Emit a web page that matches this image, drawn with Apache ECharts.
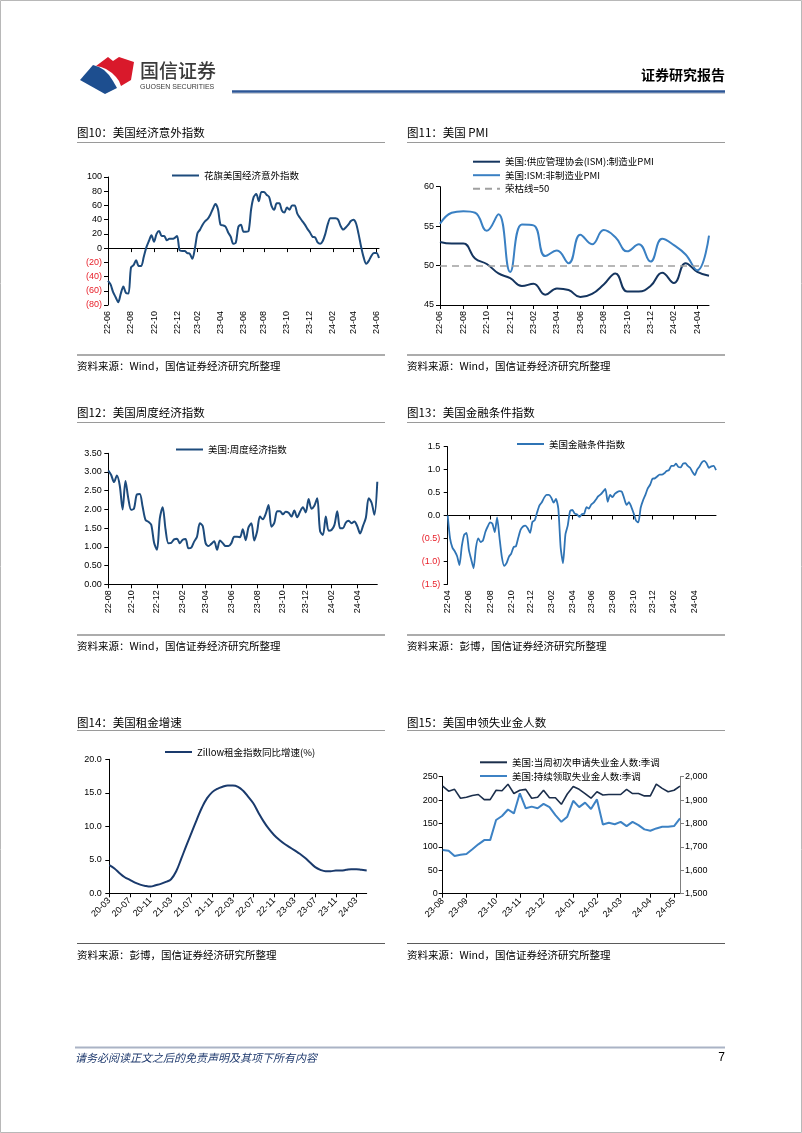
<!DOCTYPE html>
<html>
<head>
<meta charset="utf-8">
<title>国信证券 证券研究报告</title>
<script src="https://cdn.jsdelivr.net/npm/echarts@6.0.0/dist/echarts.min.js"></script>
<style>
html,body{margin:0;padding:0;background:#fff;}
#page{width:802px;height:1133px;}
</style>
</head>
<body>
<div id="page"></div>
<script>
// ---------------- data ----------------
// 图10 花旗美国经济意外指数 (weekly)
const surpriseStart = '2022-06-01';
const surpriseValues = [
  -46, -51, -62, -69, -76, -64, -54, -63, -64, -27,
  -24, -17, -25, -25, -12, 1, 10, 18, 9, 20,
  24, 17, 17, 11, 13, 13, 14, 17, -3, -4,
  -4, -7, -8, -15, 0, 21, 26, 33, 38, 41,
  47, 55, 62, 55, 33, 32, 30, 22, 16, 6,
  8, 30, 33, 23, 23, 24, 55, 72, 76, 66,
  79, 79, 75, 72, 59, 54, 63, 63, 53, 50,
  57, 54, 60, 60, 49, 43, 38, 33, 27, 22,
  16, 15, 8, 6, 10, 20, 34, 42, 42, 42,
  40, 31, 26, 29, 33, 38, 40, 35, 20, 2,
  -13, -22, -18, -11, -7, -7, -14
];

// 图11 美国 PMI (monthly)
const pmiStartMonth = '2022-06';
const pmiManufacturing = [53.0, 52.8, 52.8, 50.9, 50.2, 49.0, 48.4, 47.4, 47.7, 46.3, 47.1, 46.9,
  46.0, 46.4, 47.6, 49.0, 46.7, 46.7, 47.4, 49.1, 47.8, 50.3, 49.2, 48.7];
const pmiNonManufacturing = [55.3, 56.7, 56.9, 56.7, 54.4, 56.5, 49.2, 55.2, 55.1, 51.2, 51.9, 50.3,
  53.9, 52.7, 54.5, 53.6, 51.8, 52.7, 50.5, 53.4, 52.6, 51.4, 49.4, 53.8];
const pmiThreshold = 50;

// 图12 美国周度经济指数 (weekly)
const weiStart = '2022-08-06';
const weiValues = [
  3.04, 2.92, 2.73, 2.91, 2.64, 2.00, 2.76, 2.29, 1.99, 2.03,
  2.40, 2.41, 2.07, 1.72, 1.67, 1.59, 1.11, 0.92, 1.76, 2.06,
  1.47, 1.10, 1.11, 1.20, 1.22, 1.10, 1.19, 1.21, 0.96, 0.98,
  1.14, 1.27, 1.63, 1.56, 1.10, 1.02, 1.08, 1.15, 0.92, 1.17,
  1.10, 1.02, 1.02, 1.10, 1.27, 1.27, 1.26, 1.47, 1.18, 1.52,
  1.63, 1.17, 1.41, 1.81, 1.74, 1.88, 2.12, 1.54, 1.64, 1.95,
  1.95, 1.87, 1.94, 1.91, 1.81, 1.97, 1.79, 1.94, 2.06, 1.92,
  2.28, 2.02, 2.10, 2.30, 1.42, 1.32, 1.81, 1.43, 1.45, 1.58,
  1.95, 1.50, 1.50, 1.65, 1.70, 1.63, 1.68, 1.55, 1.36, 1.56,
  1.78, 2.30, 2.18, 1.86, 2.74
];

// 图13 美国金融条件指数 (weekly)
const fciStart = '2022-04-01';
const fciLastLabel = '2024-04';
const fciValues = [
  0.00, -0.50, -0.70, -0.78, -0.89, -1.08, -0.67, -0.42, -0.38, -0.75,
  -0.96, -1.15, -0.70, -0.50, -0.58, -0.54, -0.36, -0.24, -0.15, -0.18,
  -0.36, -0.04, -0.48, -0.90, -1.10, -1.04, -0.90, -0.83, -0.69, -0.67,
  -0.48, -0.31, -0.24, -0.22, -0.28, -0.38, -0.14, -0.10, 0.07, 0.22,
  0.29, 0.39, 0.45, 0.45, 0.39, 0.28, 0.36, 0.15, -0.70, -1.04,
  -0.42, -0.22, 0.10, 0.12, 0.04, 0.02, -0.03, 0.03, 0.04, 0.18,
  0.15, 0.24, 0.28, 0.35, 0.42, 0.46, 0.52, 0.58, 0.30, 0.45,
  0.40, 0.47, 0.51, 0.53, 0.52, 0.37, 0.23, 0.29, 0.19, 0.05,
  -0.11, -0.15, 0.17, 0.33, 0.45, 0.59, 0.67, 0.80, 0.81, 0.85,
  0.89, 0.89, 0.92, 0.97, 0.99, 1.08, 1.08, 1.13, 1.06, 1.05,
  1.13, 1.14, 1.08, 1.04, 0.95, 0.88, 1.00, 1.07, 1.16, 1.19,
  1.14, 1.04, 1.07, 1.08, 0.99
];

// 图14 Zillow租金指数同比增速(%) (monthly)
const rentStartMonth = '2020-03';
const rentYoY = [
  4.2, 3.7, 3.0, 2.4, 2.0, 1.6, 1.3, 1.1, 1.0, 1.2,
  1.4, 1.7, 2.1, 3.3, 5.2, 7.2, 9.1, 11.0, 12.8, 14.2, 15.1, 15.6,
  15.9, 16.1, 16.1, 15.9, 15.3, 14.4, 13.4, 12.0, 10.7, 9.6, 8.7, 8.0,
  7.4, 6.9, 6.4, 5.9, 5.3, 4.6, 3.9, 3.5, 3.3, 3.3, 3.4, 3.4,
  3.5, 3.6, 3.6, 3.5, 3.4
];

// 图15 美国申领失业金人数 (weekly, 千人)
const claimsStart = '2023-08-05';
const initialClaims = [230, 219, 223, 204, 206, 210, 212, 201, 201, 221,
  220, 234, 214, 221, 223, 204, 206, 221, 205, 205,
  191, 213, 229, 223, 214, 204, 218, 211, 212, 212,
  212, 223, 214, 214, 209, 209, 234, 225, 218, 221, 230];
const continuingClaims = [1687, 1684, 1661, 1666, 1670, 1690, 1711, 1729, 1729, 1815,
  1832, 1860, 1843, 1929, 1865, 1872, 1865, 1884, 1870, 1836,
  1807, 1829, 1897, 1870, 1889, 1862, 1903, 1796, 1803, 1797,
  1807, 1789, 1807, 1793, 1775, 1769, 1779, 1786, 1786, 1789, 1822];

// ---------------- category helpers ----------------
function weeklyDates(start, n) {
  const t0 = Date.parse(start + 'T00:00:00Z');
  const out = [];
  for (let i = 0; i < n; i++) out.push(new Date(t0 + i * 7 * 86400000).toISOString().slice(0, 10));
  return out;
}
function monthList(start, n) {
  let y = +start.slice(0, 4), m = +start.slice(5, 7);
  const out = [];
  for (let i = 0; i < n; i++) {
    out.push(y + '-' + String(m).padStart(2, '0'));
    m++; if (m > 12) { m = 1; y++; }
  }
  return out;
}
function monthStarts(dates, evenOnly, lastMonth) {
  const s = new Set(); let prev = '';
  dates.forEach((d, i) => {
    const ym = d.slice(0, 7);
    if (ym !== prev && (!evenOnly || (+d.slice(5, 7)) % 2 === 0) && (!lastMonth || ym <= lastMonth)) s.add(i);
    prev = ym;
  });
  return s;
}

const surpriseDates = weeklyDates(surpriseStart, surpriseValues.length);
const pmiMonths = monthList(pmiStartMonth, pmiManufacturing.length);
const weiDates = weeklyDates(weiStart, weiValues.length);
const fciDates = weeklyDates(fciStart, fciValues.length);
const rentMonths = monthList(rentStartMonth, rentYoY.length);
const claimsDates = weeklyDates(claimsStart, initialClaims.length);

const surpriseTicks = monthStarts(surpriseDates, true);
const weiTicks = monthStarts(weiDates, true);
const fciTicks = monthStarts(fciDates, true, fciLastLabel);
const claimsTicks = monthStarts(claimsDates, false);

// ---------------- styles ----------------
const CJK = '"Noto Sans CJK SC", "Noto Sans", sans-serif';
const NUM = '"Liberation Sans", Arial, sans-serif';
const RED = '#e8202a';
const AXLINE = {show: true, onZero: false, lineStyle: {color: '#000', width: 1}};
const TICK = {show: true, length: 4, lineStyle: {color: '#000', width: 1}};
const ymd = (d) => d.slice(2, 7);
const paren = (dec) => (v) => { v = Number(v); return v < 0 ? '(' + (-v).toFixed(dec) + ')' : v.toFixed(dec); };
const negRed = (v) => Number(v) < 0 ? RED : '#000';

function valAxis(grid, min, max, interval, formatter, margin, color, extra) {
  return Object.assign({
    type: 'value', gridIndex: grid, min: min, max: max, interval: interval,
    axisLine: AXLINE, axisTick: TICK, splitLine: {show: false},
    axisLabel: {fontSize: 9, fontFamily: NUM, color: color || '#000', margin: margin, formatter: formatter}
  }, extra || {});
}
function catAxis(grid, data, interval, rotate, margin, fmt) {
  return {
    type: 'category', gridIndex: grid, data: data, boundaryGap: false, position: 'bottom',
    axisLine: AXLINE,
    axisTick: {show: true, length: 4, interval: interval, lineStyle: {color: '#000', width: 1}},
    axisLabel: {fontSize: 9, fontFamily: NUM, color: '#000', rotate: rotate, interval: interval, margin: margin,
      formatter: fmt || ymd},
    splitLine: {show: false}
  };
}
function labelOnlyAxis(grid, data, interval, margin) {
  return {
    type: 'category', gridIndex: grid, data: data, boundaryGap: false, position: 'bottom',
    axisLine: {show: false, onZero: false}, axisTick: {show: false},
    axisLabel: {fontSize: 9, fontFamily: NUM, color: '#000', rotate: 90, interval: interval, margin: margin, formatter: ymd},
    splitLine: {show: false}
  };
}
function zeroLineAxis(grid, data, interval) {
  return {
    type: 'category', gridIndex: grid, data: data, boundaryGap: false, position: 'top',
    axisLine: {show: true, onZero: true, lineStyle: {color: '#000', width: 1}},
    axisTick: {show: true, inside: true, length: 4, interval: interval, lineStyle: {color: '#000', width: 1}},
    axisLabel: {show: false}, splitLine: {show: false}
  };
}
function legend(data, left, top, gap) {
  return {
    data: data, left: left, top: top, padding: 0, orient: 'vertical', itemGap: gap || 2.5,
    itemWidth: 27, itemHeight: 8, selectedMode: false,
    itemStyle: {opacity: 0},
    textStyle: {fontSize: 9.5, fontFamily: CJK, color: '#000', lineHeight: 11}
  };
}
function lineSeries(name, xi, yi, data, color, width, smooth) {
  return {
    name: name, type: 'line', xAxisIndex: xi, yAxisIndex: yi, data: data,
    symbol: 'none', showSymbol: false, smooth: smooth, animation: false,
    lineStyle: {color: color, width: width}, itemStyle: {color: color}
  };
}

// ---------------- page decorations ----------------
function txt(x, y, text, font, opts) {
  return {type: 'text', x: x, y: y, silent: true,
    style: Object.assign({text: text, font: font, fill: '#000', align: 'left', verticalAlign: 'middle'}, opts || {})};
}
function hline(x1, x2, y, stroke, w) {
  return {type: 'line', silent: true, shape: {x1: x1, y1: y, x2: x2, y2: y}, style: {stroke: stroke, lineWidth: w}};
}
const TITLE_FONT = '11.5px ' + CJK;
const SRC_FONT = '10.5px ' + CJK;
const SRC_WIND = '资料来源：Wind，国信证券经济研究所整理';
const SRC_BBG = '资料来源：彭博，国信证券经济研究所整理';

const graphics = [
  {type: 'rect', silent: true, shape: {x: 0.5, y: 0.5, width: 801, height: 1132}, style: {fill: 'none', stroke: '#b8b8b8', lineWidth: 1}},
  // logo
  {type: 'polygon', silent: true, shape: {points: [[96, 66], [108, 57], [113, 61], [119, 57], [134, 62], [131, 80], [121, 86], [119, 81], [116, 77], [112, 73], [106, 69], [101, 67]]}, style: {fill: '#d9192b'}},
  {type: 'polygon', silent: true, shape: {points: [[80, 80], [93, 65], [99, 67], [104, 70], [109, 75], [113, 81], [117, 88], [105, 94]]}, style: {fill: '#1d4e8f'}},
  txt(140, 71, '国信证券', '500 19px ' + CJK, {fill: '#3a3a3a'}),
  txt(140, 87, 'GUOSEN SECURITIES', '7px ' + NUM, {fill: '#3a3a3a'}),
  txt(725, 75, '证券研究报告', 'bold 14px ' + CJK, {align: 'right'}),
  hline(232, 725, 91.5, '#2d5696', 2.5),
  hline(232, 725, 93.5, '#c8ccd4', 1),
  // titles
  txt(77, 132.5, '图10：美国经济意外指数', TITLE_FONT),
  txt(407, 132.5, '图11：美国 PMI', TITLE_FONT),
  txt(77, 412.5, '图12：美国周度经济指数', TITLE_FONT),
  txt(407, 412.5, '图13：美国金融条件指数', TITLE_FONT),
  txt(77, 722.5, '图14：美国租金增速', TITLE_FONT),
  txt(407, 722.5, '图15：美国申领失业金人数', TITLE_FONT),
  hline(77, 385, 142.5, '#9a9a9a', 1), hline(407, 725, 142.5, '#9a9a9a', 1),
  hline(77, 385, 422.5, '#9a9a9a', 1), hline(407, 725, 422.5, '#9a9a9a', 1),
  hline(77, 385, 730.5, '#9a9a9a', 1), hline(407, 725, 730.5, '#9a9a9a', 1),
  // sources
  hline(77, 385, 355, '#5a5a5a', 1.2), hline(407, 725, 355, '#5a5a5a', 1.2),
  hline(77, 385, 635, '#5a5a5a', 1.2), hline(407, 725, 635, '#5a5a5a', 1.2),
  hline(77, 385, 943.5, '#5a5a5a', 1.2), hline(407, 725, 943.5, '#5a5a5a', 1.2),
  txt(77, 366.5, SRC_WIND, SRC_FONT), txt(407, 366.5, SRC_WIND, SRC_FONT),
  txt(77, 646.5, SRC_WIND, SRC_FONT), txt(407, 646.5, SRC_BBG, SRC_FONT),
  txt(77, 955, SRC_BBG, SRC_FONT), txt(407, 955, SRC_WIND, SRC_FONT),
  // footer
  hline(75, 725, 1047.5, '#aab3c5', 2),
  txt(75, 1057.5, '请务必阅读正文之后的免责声明及其项下所有内容', 'italic 11px ' + CJK, {fill: '#1f3a6e'}),
  txt(725, 1058, '7', '12px ' + NUM, {align: 'right'})
];

// ---------------- chart ----------------
const chart = echarts.init(document.getElementById('page'), null, {renderer: 'canvas', width: 802, height: 1133});

const option = {
  animation: false,
  backgroundColor: '#fff',
  grid: [
    {left: 108, top: 177, width: 271, height: 128},
    {left: 440, top: 186.7, width: 269, height: 118.3},
    {left: 108.3, top: 453.3, width: 269, height: 131},
    {left: 447.7, top: 446.7, width: 268.3, height: 137.6},
    {left: 109.3, top: 759.3, width: 257.4, height: 134},
    {left: 442.7, top: 776.7, width: 237.3, height: 117}
  ],
  xAxis: [
    labelOnlyAxis(0, surpriseDates, (i) => surpriseTicks.has(i), 6),
    zeroLineAxis(0, surpriseDates, (i) => surpriseTicks.has(i)),
    catAxis(1, pmiMonths, 1, 90, 6, (d) => d.slice(2)),
    catAxis(2, weiDates, (i) => weiTicks.has(i), 90, 6),
    labelOnlyAxis(3, fciDates, (i) => fciTicks.has(i), 6),
    zeroLineAxis(3, fciDates, (i) => fciTicks.has(i)),
    catAxis(4, rentMonths, 3, 45, 6, (d) => d.slice(2)),
    catAxis(5, claimsDates, (i) => claimsTicks.has(i), 45, 6)
  ],
  yAxis: [
    valAxis(0, -80, 100, 20, paren(0), 6, negRed),
    valAxis(1, 45, 60, 5, (v) => String(v), 6),
    valAxis(2, 0, 3.5, 0.5, (v) => Number(v).toFixed(2), 6.5),
    valAxis(3, -1.5, 1.5, 0.5, paren(1), 7.5, negRed),
    valAxis(4, 0, 20, 5, (v) => Number(v).toFixed(1), 7.5),
    valAxis(5, 0, 250, 50, (v) => String(v), 5),
    valAxis(5, 1500, 2000, 100, (v) => Number(v).toLocaleString('en-US'), 5, '#000',
      {position: 'right', axisLine: {show: true, onZero: false, lineStyle: {color: '#7f7f7f', width: 1}},
       axisTick: {show: true, length: 4, lineStyle: {color: '#7f7f7f', width: 1}}})
  ],
  legend: [
    legend(['花旗美国经济意外指数'], 171, 170),
    legend(['美国:供应管理协会(ISM):制造业PMI', '美国:ISM:非制造业PMI', '荣枯线=50'], 472, 156.2, 2.5),
    legend(['美国:周度经济指数'], 175, 444),
    legend(['美国金融条件指数'], 516, 438.5),
    legend(['Zillow租金指数同比增速(%)'], 164, 746.5),
    legend(['美国:当周初次申请失业金人数:季调', '美国:持续领取失业金人数:季调'], 479, 756.8, 2.7)
  ],
  graphic: graphics,
  series: [
    lineSeries('花旗美国经济意外指数', 0, 0, surpriseValues, '#1d4b7c', 2, 0.3),
    lineSeries('美国:供应管理协会(ISM):制造业PMI', 2, 1, pmiManufacturing, '#15355f', 2, 0.45),
    lineSeries('美国:ISM:非制造业PMI', 2, 1, pmiNonManufacturing, '#3a80c3', 2, 0.45),
    Object.assign(lineSeries('荣枯线=50', 2, 1, [], '#a0a0a0', 1.6, false), {
      lineStyle: {color: '#a0a0a0', width: 1.6, type: [7, 5]},
      markLine: {silent: true, symbol: 'none', animation: false, label: {show: false},
        lineStyle: {color: '#a0a0a0', width: 1.6, type: [7, 5]},
        data: [{yAxis: pmiThreshold}]}
    }),
    lineSeries('美国:周度经济指数', 3, 2, weiValues, '#1d4b7c', 2, 0.3),
    lineSeries('美国金融条件指数', 4, 3, fciValues, '#2f74b5', 1.8, 0.2),
    lineSeries('Zillow租金指数同比增速(%)', 6, 4, rentYoY, '#1a3a6c', 2, 0.4),
    lineSeries('美国:持续领取失业金人数:季调', 7, 6, continuingClaims, '#3d82c4', 2, false),
    lineSeries('美国:当周初次申请失业金人数:季调', 7, 5, initialClaims, '#1b2e4b', 1.6, false)
  ]
};
chart.setOption(option);
</script>
</body>
</html>
